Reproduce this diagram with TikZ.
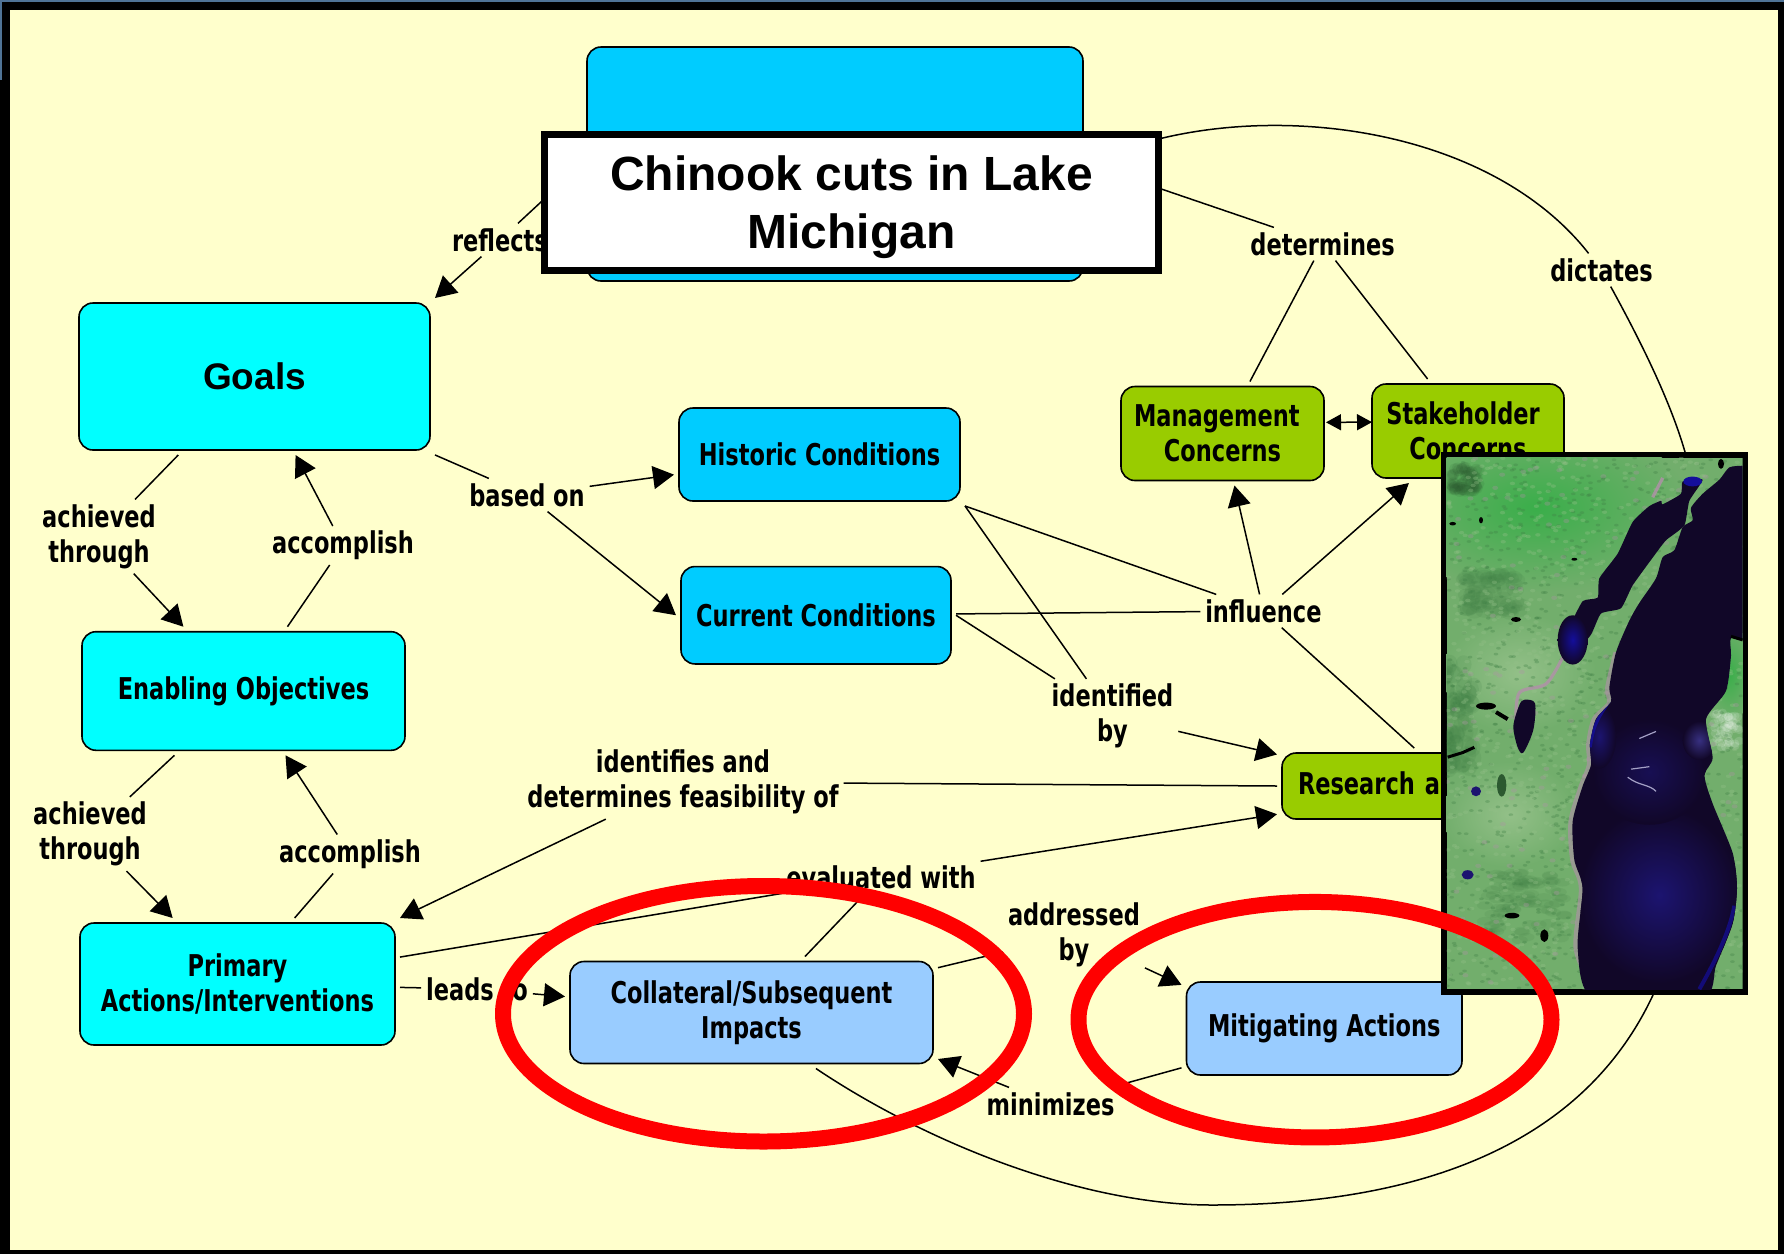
\documentclass[tikz,border=0pt]{standalone}
\usepackage{fontspec}
\usetikzlibrary{arrows.meta}
\setmainfont{Liberation Sans}
\newfontfamily\labf[FakeStretch=0.75]{DejaVu Sans}
\definecolor{paper}{HTML}{FFFFCC}
\definecolor{topstrip}{HTML}{4F7396}
\definecolor{cyanbox}{HTML}{00FFFF}
\definecolor{skybox}{HTML}{00CCFF}
\definecolor{palebox}{HTML}{99CCFF}
\definecolor{olivebox}{HTML}{99CC00}
\definecolor{landbase}{HTML}{72AE6C}
\definecolor{landdark}{HTML}{3F7F45}
\definecolor{landbright}{HTML}{3AAE4A}
\definecolor{landlight}{HTML}{93C088}
\definecolor{landpink}{HTML}{B28FAA}
\definecolor{waterdark}{HTML}{110728}
\definecolor{waterblue}{HTML}{1C1470}
\tikzset{
  cbox/.style={draw=black,line width=0.8pt,rounded corners=7pt,inner sep=0pt,outer sep=2.5pt,
    align=center,text=black,font=\fontsize{15}{17.5}\selectfont\labf\bfseries},
  lab/.style={inner sep=2.5pt,outer sep=0pt,align=center,text=black,
    font=\fontsize{15}{17.5}\selectfont\labf\bfseries},
  con/.style={draw=black,line width=0.75pt},
  arr/.style={con,-{Triangle[length=10.5pt,width=11.5pt]}},
  dbl/.style={con,{Triangle[length=7.5pt,width=8pt]}-{Triangle[length=7.5pt,width=8pt]},shorten <=-1.5pt,shorten >=-2.5pt},
  ring/.style={draw=red,line width=8pt},
}
\def\lakeshape{(925,50) (880,55) (850,90) (800,130) (765,170) (770,205) (740,225) (715,290) (680,310) (660,370) (610,440) (580,490) (540,580) (520,680) (525,720) (480,770) (462,840) (465,900) (440,960) (410,1060) (415,1170) (440,1250) (425,1420) (470,1560) (800,1560) (840,1470) (890,1350) (903,1250) (890,1150) (830,1010) (805,930) (830,880) (810,770) (870,690) (885,590) (885,540) (940,515) (940,50)}
\begin{document}
\begin{tikzpicture}[x=0.5pt,y=-0.5pt]
\useasboundingbox (0,0) rectangle (1784,1254);
% page frame
\fill[black] (0,0) rectangle (1784,1254);
\fill[topstrip] (0,0) rectangle (1784,2);
\fill[topstrip] (0,0) rectangle (2,80);
\fill[paper] (10,10) rectangle (1778,1250);

% concept boxes
\node[cbox,fill=skybox,minimum width=248pt,minimum height=117pt] (big) at (835,164) {};
\node[cbox,fill=cyanbox,minimum width=175.5pt,minimum height=73.5pt,font=\fontsize{18.5}{22}\selectfont\bfseries] (goals) at (254.5,376.5) {Goals};
\node[cbox,fill=cyanbox,minimum width=161.5pt,minimum height=59.3pt] (enabling) at (243.5,691) {Enabling Objectives};
\node[cbox,fill=cyanbox,minimum width=157.5pt,minimum height=61pt] (primary) at (237.5,984) {Primary\\Actions/Interventions};
\node[cbox,fill=skybox,minimum width=140.5pt,minimum height=46.5pt] (historic) at (819.5,454.5) {Historic Conditions};
\node[cbox,fill=skybox,minimum width=135pt,minimum height=48.7pt] (current) at (816,615.25) {Current Conditions};
\node[cbox,fill=olivebox,minimum width=101.5pt,minimum height=47pt] (mgmt) at (1222.5,433.5) {Management\hspace*{5.7pt}\\Concerns};
\node[cbox,fill=olivebox,minimum width=96pt,minimum height=47pt] (stake) at (1468,431) {Stakeholder\hspace*{5pt}\\Concerns};
\node[cbox,fill=olivebox,inner xsep=8pt,text width=158pt,align=left,minimum height=33pt] (research) at (1456,786) {\rule[-3.4pt]{0pt}{1pt}Research a};
\node[cbox,fill=palebox,minimum width=181.5pt,minimum height=51pt] (collateral) at (751.5,1012.5) {Collateral/Subsequent\\Impacts};
\node[cbox,fill=palebox,minimum width=137.75pt,minimum height=46.5pt] (mitigating) at (1324.25,1028.5) {Mitigating Actions};

% linking phrases
\node[lab] (reflects) at (500,240) {reflects};
\node[lab] (achA) at (99,536.5) {achieved\\through};
\node[lab] (accA) at (343,545.5) {accomplish};
\node[lab] (based) at (527,495) {based on};
\node[lab] (determines) at (1322.6,244) {determines};
\node[lab] (dictates) at (1601.6,270) {dictates};
\node[lab] (influence) at (1263.4,611) {influence};
\node[lab] (identified) at (1112.5,716) {identified\\by};
\node[lab] (identifies) at (683,782) {identifies and\\determines feasibility of};
\node[lab] (achB) at (90,834) {achieved\\through};
\node[lab] (accB) at (350,854) {accomplish};
\node[lab] (evaluated) at (881,877) {evaluated with};
\node[lab] (leads) at (477,989) {leads to};
\node[lab] (addressed) at (1074,935) {addressed\\by};
\node[lab] (minimizes) at (1050.5,1104) {minimizes};

% connectors
\draw[con] (big.west) -- (reflects);
\draw[arr] (reflects) -- (goals.north east);
\draw[con] (goals) -- (achA);
\draw[arr] (achA) -- (enabling);
\draw[con] (enabling) -- (accA);
\draw[arr] (accA) -- (goals);
\draw[con] (enabling) -- (achB);
\draw[arr] (achB) -- (primary);
\draw[con] (primary) -- (accB);
\draw[arr] (accB) -- (enabling);
\draw[con] (goals) -- (based);
\draw[arr] (based) -- (historic);
\draw[arr] (based) -- (current.west);
\draw[con] (historic.south east) -- (influence);
\draw[con] (historic.south east) -- (identified);
\draw[con] (current) -- (influence);
\draw[con] (current.east) -- (identified);
\draw[arr] (influence) -- (mgmt);
\draw[arr] (influence) -- (stake);
\draw[con] (influence) -- (research);
\draw[arr] (identified) -- (research.170);
\draw[con] (research.west) -- (identifies);
\draw[arr] (identifies) -- (primary.north east);
\draw[con] (primary) -- (evaluated);
\draw[arr] (evaluated) -- (research);
\draw[con] (collateral) -- (evaluated);
\draw[con] (primary) -- (leads);
\draw[arr] (leads) -- (collateral);
\draw[con] (collateral) -- (addressed);
\draw[arr] (addressed) -- (mitigating.163);
\draw[con] (mitigating) -- (minimizes);
\draw[arr] (minimizes) -- (collateral.-14);
\draw[con] (big.east) -- (determines);
\draw[con] (determines) -- (mgmt);
\draw[con] (determines) -- (stake);
\draw[dbl] (mgmt.6) -- (stake.175);
\draw[con] (big.east) .. controls (1230,95) and (1480,115) .. (dictates);
\draw[con] (dictates) .. controls (1640,340) and (1670,400) .. (1685,452)
  .. controls (1720,650) and (1720,830) .. (1653,995)
  .. controls (1590,1130) and (1445,1205) .. (1212,1205)
  .. controls (1085,1205) and (930,1145) .. (collateral.-41);

% title
\node[draw=black,line width=3.5pt,fill=white,inner sep=0pt,minimum width=307pt,minimum height=68pt,align=center,
  font=\fontsize{24}{29}\selectfont\bfseries] (title) at (851.5,202) {\rule{0pt}{23pt}Chinook cuts in Lake\\Michigan};

% satellite picture (coordinates are those of a 3x crop)
\fill[black] (1441,452) rectangle (1748,994.5);
\begin{scope}[shift={(1436,448)},xscale=0.33333,yscale=0.35211]
  \clip (32,28) rectangle (920,1537);
  \fill[landbase] (32,28) rectangle (920,1537);
  \pgfmathsetseed{7}
  \shade[inner color=landbright,outer color=landbase] (300,170) ellipse [x radius=470,y radius=240];
  \shade[inner color=landlight,outer color=landbase] (250,640) ellipse [x radius=230,y radius=170];
  \shade[inner color=landlight,outer color=landbase] (220,1040) ellipse [x radius=200,y radius=150];
  \shade[inner color=landbright,outer color=landbase] (880,640) ellipse [x radius=70,y radius=140];
  % soft dark tracts, built up from many faint spots
  \foreach \k in {1,...,70}{
    \pgfmathsetmacro\px{170+(rnd-.5)*170}\pgfmathsetmacro\py{410+(rnd-.5)*120}
    \fill[landdark,opacity=.13] (\px,\py) ellipse [x radius=26,y radius=18];
  }
  \foreach \k in {1,...,70}{
    \pgfmathsetmacro\px{70+(rnd-.5)*90}\pgfmathsetmacro\py{760+(rnd-.5)*300}
    \fill[landdark,opacity=.13] (\px,\py) ellipse [x radius=24,y radius=26];
  }
  \foreach \k in {1,...,60}{
    \pgfmathsetmacro\px{85+(rnd-.5)*90}\pgfmathsetmacro\py{90+(rnd-.5)*70}
    \fill[landdark!70!black,opacity=.13] (\px,\py) ellipse [x radius=18,y radius=16];
  }
  \foreach \k in {1,...,90}{
    \pgfmathsetmacro\px{270+(rnd-.5)*250}\pgfmathsetmacro\py{1300+(rnd-.5)*200}
    \fill[landdark,opacity=.13] (\px,\py) ellipse [x radius=24,y radius=12];
  }
  \foreach \k in {1,...,50}{
    \pgfmathsetmacro\px{870+(rnd-.5)*80}\pgfmathsetmacro\py{800+(rnd-.5)*100}
    \fill[white,opacity=.13] (\px,\py) ellipse [x radius=14,y radius=12];
  }
  \foreach \k in {1,...,1100}{
    \pgfmathsetmacro\px{32+rnd*888}\pgfmathsetmacro\py{28+rnd*1509}
    \fill[landdark,opacity=.32] (\px,\py) ellipse [x radius=7,y radius=4];
  }
  \foreach \k in {1,...,1000}{
    \pgfmathsetmacro\px{32+rnd*888}\pgfmathsetmacro\py{28+rnd*1509}
    \fill[landlight,opacity=.35] (\px,\py) ellipse [x radius=8,y radius=5];
  }
  \foreach \k in {1,...,160}{
    \pgfmathsetmacro\px{32+rnd*888}\pgfmathsetmacro\py{28+rnd*1509}
    \fill[landpink,opacity=.3] (\px,\py) ellipse [x radius=9,y radius=6];
  }
  % pink shore fringe
  \draw[landpink,line width=2.5pt,opacity=.6,line join=round] plot[smooth,tension=.5] coordinates {(540,580) (515,680) (520,725) (475,770) (458,840) (460,900) (436,960) (405,1060) (410,1170) (436,1250) (420,1420) (468,1530)};
  \draw[landpink,line width=1.6pt,opacity=.8] plot[smooth,tension=.5] coordinates {(380,595) (330,670) (250,695) (240,780)};
  \draw[landpink,line width=1.6pt,opacity=.8] (650,140) -- (680,85);
  % main lake, with its sheen kept inside the shore
  \begin{scope}
    \clip plot[smooth cycle,tension=.4] coordinates \lakeshape;
    \fill[waterdark] (300,0) rectangle (960,1600);
    \shade[inner color=waterblue,outer color=waterdark] (670,1270) ellipse [x radius=240,y radius=250];
    \shade[inner color=waterblue!60!waterdark,outer color=waterdark] (640,920) ellipse [x radius=170,y radius=150];
    \shade[inner color=waterblue,outer color=waterdark] (490,820) ellipse [x radius=50,y radius=90];
    \draw[waterblue!70!blue,line width=2pt,opacity=.7] (790,1537) .. controls (830,1470) and (880,1380) .. (895,1300);
    \draw[waterblue!70!blue,line width=1.5pt,opacity=.8] (520,720) .. controls (490,760) and (470,790) .. (463,850);
    \draw[white!60!waterblue,line width=.6pt] (575,935) .. controls (610,960) and (640,955) .. (660,975);
    \draw[white!60!waterblue,line width=.6pt] (585,912) -- (640,905);
    \draw[white!60!waterblue,line width=.6pt] (610,825) -- (660,805);
    \shade[inner color=white!12!waterblue,outer color=waterdark] (790,830) ellipse [x radius=50,y radius=55];
  \end{scope}
  % bay
  \fill[waterdark] plot[smooth cycle,tension=.3] coordinates {(675,150) (640,165) (590,210) (545,300) (490,370) (485,425) (440,435) (400,510) (380,580) (410,590) (465,530) (495,470) (555,455) (590,390) (655,305) (690,262) (745,220) (760,150) (800,90) (740,95) (735,130) (680,160)};
  \shade[inner color=waterblue!70!blue,outer color=waterdark] (410,545) ellipse [x radius=45,y radius=70];
  \fill[waterblue!70!blue] (770,95) ellipse [x radius=28,y radius=14];
  % inland lakes
  \fill[waterdark] plot[smooth cycle,tension=.5] coordinates {(265,715) (297,725) (292,800) (262,865) (245,850) (232,790) (250,730)};
  \fill[black] (150,733) ellipse [x radius=30,y radius=10];
  \draw[black,line width=2pt] (180,750) -- (215,770);
  \draw[black,line width=1.5pt] (35,878) -- (80,865) -- (115,850);
  \fill[waterblue] (95,1212) ellipse [x radius=18,y radius=13];
  \fill[landdark!70!black] (197,958) ellipse [x radius=14,y radius=32];
  \fill[black] (228,1328) ellipse [x radius=22,y radius=8];
  \fill[black] (240,487) ellipse [x radius=15,y radius=7];
  \fill[black] (325,1385) ellipse [x radius=12,y radius=18];
  \fill[waterblue] (120,975) ellipse [x radius=15,y radius=14];
  \fill[black] (855,45) ellipse [x radius=9,y radius=14];
  \fill[black] (50,215) ellipse [x radius=10,y radius=5];
  \fill[black] (135,205) ellipse [x radius=6,y radius=9];
  \fill[black] (415,316) ellipse [x radius=9,y radius=4];
  \draw[black,line width=1.5pt] (885,535) -- (920,545);
\end{scope}

% red circles
\draw[ring] (763.5,1013.75) ellipse [x radius=260.5,y radius=127.75];
\draw[ring] (1315,1019.7) ellipse [x radius=236.5,y radius=117.75];
\end{tikzpicture}
\end{document}
